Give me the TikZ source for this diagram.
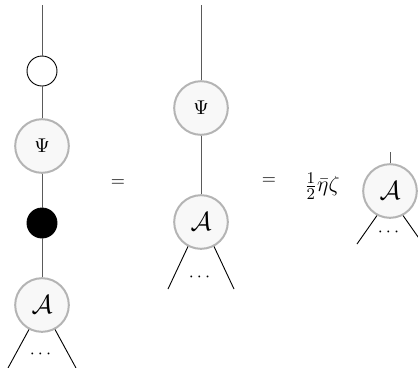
\documentclass[tikz,border=0pt]{standalone}
\usepackage{amsmath}
\usepackage{xcolor}
\usepackage{tikz}
\usetikzlibrary{positioning}

\definecolor{rimgray}{HTML}{B4B4B4}
\definecolor{fillgray}{HTML}{F8F8F8}
\definecolor{wiregray}{HTML}{5A5A5A}

\begin{document}
\begin{tikzpicture}[
    x=0.55pt, y=-0.55pt,
    vertex/.style={circle, draw=rimgray, fill=fillgray, line width=1.1pt, minimum size=29.5pt, inner sep=0pt, font=\fontsize{11}{13}\selectfont},
    bigcal/.style={font=\fontsize{13.5}{16}\selectfont},
    opendot/.style={circle, draw, fill=white, line width=0.5pt, minimum size=16.5pt, inner sep=0pt},
    fulldot/.style={circle, draw, fill=black, line width=0.5pt, minimum size=16.5pt, inner sep=0pt},
    wire/.style={draw=wiregray, line width=0.55pt},
    leg/.style={draw=black, line width=0.5pt}
]
\useasboundingbox (0,0) rectangle (418,367);

% Left side
\coordinate (ltop) at (42,5);
\node[opendot] (lwhite) at (42,71) {};
\node[vertex] (lpsi) at (42,146) {$\Psi$};
\node[fulldot] (lblack) at (42,223) {};
\node[vertex, bigcal] (la) at (42,305) {$\mathcal{A}$};
\coordinate (lleft) at (8,368);
\coordinate (lright) at (76,368);
\node (ldots) at (42,354) {$\cdots$};

\draw[wire] (ltop) -- (lwhite) -- (lpsi) -- (lblack) -- (la);
\draw[leg] (la.-118) -- (lleft);
\draw[leg] (la.-62) -- (lright);

\node (eqone) at (118,183) {$=$};

% Middle
\coordinate (mtop) at (201,5);
\node[vertex] (mpsi) at (201,108) {$\Psi$};
\node[vertex, bigcal] (ma) at (201,222) {$\mathcal{A}$};
\coordinate (mleft) at (168,289);
\coordinate (mright) at (234,289);
\node (mdots) at (201,277) {$\cdots$};

\draw[wire] (mtop) -- (mpsi) -- (ma);
\draw[leg] (ma.-118) -- (mleft);
\draw[leg] (ma.-62) -- (mright);

\node (eqtwo) at (269,181) {$=$};

% Right
\node[font=\fontsize{13}{15}\selectfont] (coef) at (322,186) {$\tfrac{1}{2}\bar{\eta}\zeta$};
\coordinate (rtop) at (390,152);
\node[vertex, bigcal] (ra) at (390,191) {$\mathcal{A}$};
\coordinate (rleft) at (357,244);
\coordinate (rright) at (423,244);
\node (rdots) at (390,232) {$\cdots$};

\draw[wire] (rtop) -- (ra);
\draw[leg] (ra.-118) -- (rleft);
\draw[leg] (ra.-62) -- (rright);

\end{tikzpicture}
\end{document}
